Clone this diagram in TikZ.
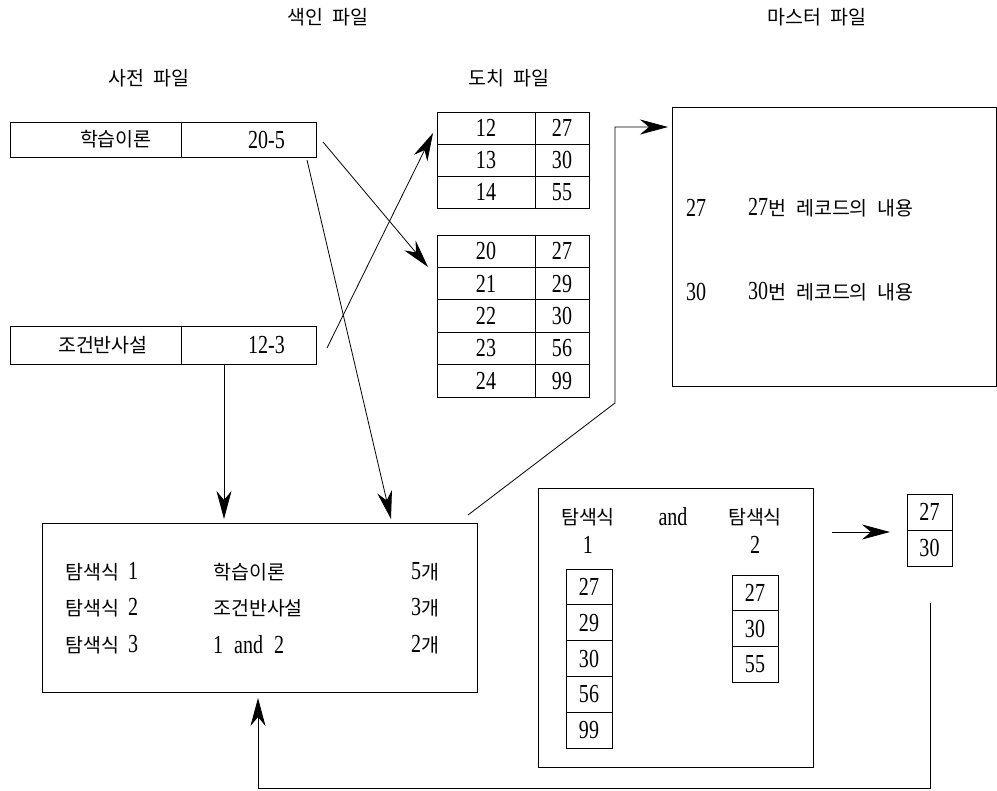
\documentclass[tikz,border=0pt]{standalone}
\usepackage{fontspec}
\setmainfont{Liberation Serif}[FakeStretch=0.77]
\newfontfamily\kr{Noto Sans CJK KR}
\usetikzlibrary{arrows.meta,calc}
\newcommand\K[1]{{\kr\fontsize{19.5pt}{23pt}\selectfont #1}}
\newcommand\ks{\hspace{10pt}}
\tikzset{
  box/.style={draw, line width=0.9pt, inner sep=0pt},
  txt/.style={inner sep=0pt},
  conn/.style={line width=0.8pt},
  arr/.style={conn, -{Stealth[length=28pt,width=15pt,inset=9pt]}},
  every node/.append style={font=\fontsize{26pt}{30pt}\selectfont},
}
\begin{document}
\begin{tikzpicture}[x=1pt,y=-1pt]
\useasboundingbox (0,0) rectangle (997,791);
% headings
\node[txt] (h1) at (328,17) {\K{색인\ks 파일}};
\node[txt] (h2) at (817,17) {\K{마스터\ks 파일}};
\node[txt] (h3) at (149,78) {\K{사전\ks 파일}};
\node[txt] (h4) at (509,78) {\K{도치\ks 파일}};
% dictionary file
\node[box, minimum width=171pt, minimum height=35pt] (d1a) at (95.5,139.5) {};
\node[box, minimum width=135pt, minimum height=35pt] (d1b) at (248.5,139.5) {};
\node[txt, anchor=east] (t1a) at (152,139.5) {\K{학습이론}};
\node[txt, anchor=east] (t1b) at (285,139.5) {20-5};
\node[box, minimum width=171pt, minimum height=38pt] (d2a) at (95.5,345) {};
\node[box, minimum width=135pt, minimum height=38pt] (d2b) at (248.5,345) {};
\node[txt, anchor=east] (t2a) at (148,345) {\K{조건반사설}};
\node[txt, anchor=east] (t2b) at (285,345) {12-3};
% inverted file
\foreach \l/\r [count=\i] in {12/27,13/30,14/55}{
  \node[box, minimum width=98pt, minimum height=32pt] (pa\i) at (486,{112+32*(\i-1)+16}) {\l};
  \node[box, minimum width=54pt, minimum height=32pt] (pb\i) at (562,{112+32*(\i-1)+16}) {\r};
}
\foreach \l/\r [count=\i] in {20/27,21/29,22/30,23/56,24/99}{
  \node[box, minimum width=98pt, minimum height=32.4pt] (qa\i) at (486,{235+32.4*(\i-1)+16.2}) {\l};
  \node[box, minimum width=54pt, minimum height=32.4pt] (qb\i) at (562,{235+32.4*(\i-1)+16.2}) {\r};
}
% master file
\node[box, minimum width=324pt, minimum height=279pt] (m) at (834,246.5) {};
\node[txt, anchor=west] (m1n) at (686,208) {27};
\node[txt, anchor=west] (m1t) at (748,208) {27\K{번\ks 레코드의\ks 내용}};
\node[txt, anchor=west] (m2n) at (686,292) {30};
\node[txt, anchor=west] (m2t) at (748,292) {30\K{번\ks 레코드의\ks 내용}};
% query box
\node[box, minimum width=435pt, minimum height=169pt] (q) at (259.5,607.5) {};
\node[txt, anchor=west] (q1a) at (65,572) {\K{탐색식}\hspace{9pt}1};
\node[txt, anchor=west] (q1b) at (213,572) {\K{학습이론}};
\node[txt, anchor=west] (q1c) at (411,572) {5\K{개}};
\node[txt, anchor=west] (q2a) at (65,608) {\K{탐색식}\hspace{9pt}2};
\node[txt, anchor=west] (q2b) at (213,608) {\K{조건반사설}};
\node[txt, anchor=west] (q2c) at (411,608) {3\K{개}};
\node[txt, anchor=west] (q3a) at (65,645) {\K{탐색식}\hspace{9pt}3};
\node[txt, anchor=west] (q3b) at (213,645) {1\hspace{11pt}and\hspace{11pt}2};
\node[txt, anchor=west] (q3c) at (411,645) {2\K{개}};
% AND box
\node[box, minimum width=275pt, minimum height=279pt] (a) at (675.5,627.5) {};
\node[txt] (ah1) at (588,517) {\K{탐색식}};
\node[txt] (ah1n) at (588,545) {1};
\node[txt] (aand) at (673,517) {and};
\node[txt] (ah2) at (755,517) {\K{탐색식}};
\node[txt] (ah2n) at (755,545) {2};
\foreach \v [count=\i] in {27,29,30,56,99}{
  \node[box, minimum width=46pt, minimum height=35.8pt] (x\i) at (589,{569+35.8*(\i-1)+17.9}) {\v};
}
\foreach \v [count=\i] in {27,30,55}{
  \node[box, minimum width=46pt, minimum height=35.7pt] (y\i) at (755,{575+35.7*(\i-1)+17.85}) {\v};
}
% result
\node[box, minimum width=45pt, minimum height=36pt] (r1) at (929.5,512) {27};
\node[box, minimum width=45pt, minimum height=36pt] (r2) at (929.5,548) {30};
% connector ends
\coordinate (c1s) at (323,142);
\coordinate (c1e) at (428,267);
\coordinate (c2s) at (327,348);
\coordinate (c2e) at (433,133);
\coordinate (c3s) at (307,160);
\coordinate (c3e) at (391,519);
\coordinate (c4s) at (224,365);
\coordinate (c4e) at (224,519);
\coordinate (c5s) at (468,515);
\coordinate (c5e) at (668,127);
\coordinate (c6s) at (832,532);
\coordinate (c6e) at (890,532);
\coordinate (c7s) at (930,603);
\coordinate (c7e) at (258,698);
% connectors
\draw[arr] (c1s) -- (c1e);
\draw[arr] (c2s) -- (c2e);
\draw[arr] (c3s) -- (c3e);
\draw[arr] (c4s) -- (c4e);
\draw[arr] (c5s) -- (615,403) -- (615,127) -- (c5e);
\draw[arr] (c6s) -- (c6e);
\draw[arr] (c7s) -- (930,788) -- (258,788) -- (c7e);
\end{tikzpicture}
\end{document}
